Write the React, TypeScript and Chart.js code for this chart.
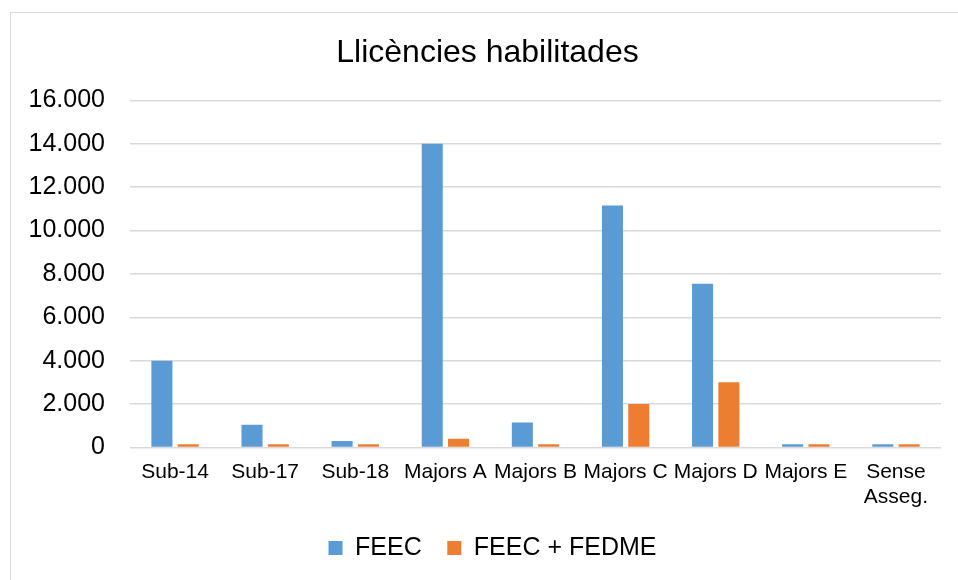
import React, { useEffect, useRef } from "react";
import { Chart, registerables } from "chart.js";

Chart.register(...registerables);

const categories: (string | string[])[] = [
  "Sub-14",
  "Sub-17",
  "Sub-18",
  "Majors A",
  "Majors B",
  "Majors C",
  "Majors D",
  "Majors E",
  ["Sense", "Asseg."],
];
const feec = [4000, 1050, 300, 14000, 1150, 11150, 7550, 150, 150];
const feecFedme = [150, 150, 150, 400, 150, 2000, 3000, 150, 150];
const seriesNames = ["FEEC", "FEEC + FEDME"];
const yTicks = { min: 0, max: 16000, step: 2000 };
const chartTitle = "Llicències habilitades";

const FONT = "'Liberation Sans', Arial, sans-serif";

function fmt(v: number): string {
  return String(Math.round(v)).replace(/\B(?=(\d{3})+(?!\d))/g, ".");
}

const shiftPlugin = {
  id: "shiftBlocks",
  afterLayout(chart: any) {
    const l = chart.legend;
    if (l) {
      l.left += 22;
      l.right += 22;
    }
    const t = chart.titleBlock;
    if (t) {
      t.left += 17;
      t.right += 17;
    }
  },
};

export default function App() {
  const ref = useRef<HTMLCanvasElement | null>(null);

  useEffect(() => {
    document.body.style.margin = "0";
    document.body.style.overflow = "hidden";
    const canvas = ref.current;
    if (!canvas) return;
    const chart = new Chart(canvas, {
      type: "bar",
      data: {
        labels: categories,
        datasets: [
          {
            label: seriesNames[0],
            data: feec,
            backgroundColor: "#5B9BD5",
            categoryPercentage: 0.584,
            barPercentage: 0.8,
          },
          {
            label: seriesNames[1],
            data: feecFedme,
            backgroundColor: "#ED7D31",
            categoryPercentage: 0.584,
            barPercentage: 0.8,
          },
        ],
      },
      plugins: [shiftPlugin],
      options: {
        responsive: false,
        animation: false,
        maintainAspectRatio: false,
        layout: { padding: { left: 0, right: 17, top: 0, bottom: 9.5 } },
        plugins: {
          title: {
            display: true,
            text: chartTitle,
            color: "#000",
            font: { family: FONT, size: 32, weight: "normal" },
            padding: { top: 34, bottom: 28 },
          },
          legend: {
            display: true,
            position: "bottom",
            labels: {
              color: "#000",
              font: { family: FONT, size: 25 },
              boxWidth: 14,
              boxHeight: 14,
              padding: 25.6,
            },
          },
          tooltip: { enabled: false },
        },
        scales: {
          x: {
            afterFit: (s: any) => {
              s.height = 62.5;
            },
            grid: { display: false, drawTicks: false },
            border: { display: false },
            ticks: {
              color: "#000",
              font: { family: FONT, size: 21 },
              padding: 12.5,
              maxRotation: 0,
              autoSkip: false,
            },
          },
          y: {
            min: yTicks.min,
            max: yTicks.max,
            afterFit: (s: any) => {
              s.width = 130;
            },
            grid: { color: "#D9D9D9", lineWidth: 1.5, drawTicks: false },
            border: { display: false },
            ticks: {
              stepSize: yTicks.step,
              color: "#000",
              font: { family: FONT, size: 25 },
              padding: 25,
              callback: (v: any) => fmt(Number(v)),
            },
          },
        },
      },
    });
    return () => chart.destroy();
  }, []);

  return (
    <div style={{ position: "relative", width: 958, height: 580, overflow: "hidden", background: "#fff" }}>
      <div
        style={{
          position: "absolute",
          left: 10,
          top: 12,
          width: 980,
          height: 600,
          border: "1.5px solid #D9D9D9",
          boxSizing: "border-box",
        }}
      />
      <canvas ref={ref} width={958} height={580} style={{ position: "absolute", left: 0, top: 0 }} />
    </div>
  );
}
